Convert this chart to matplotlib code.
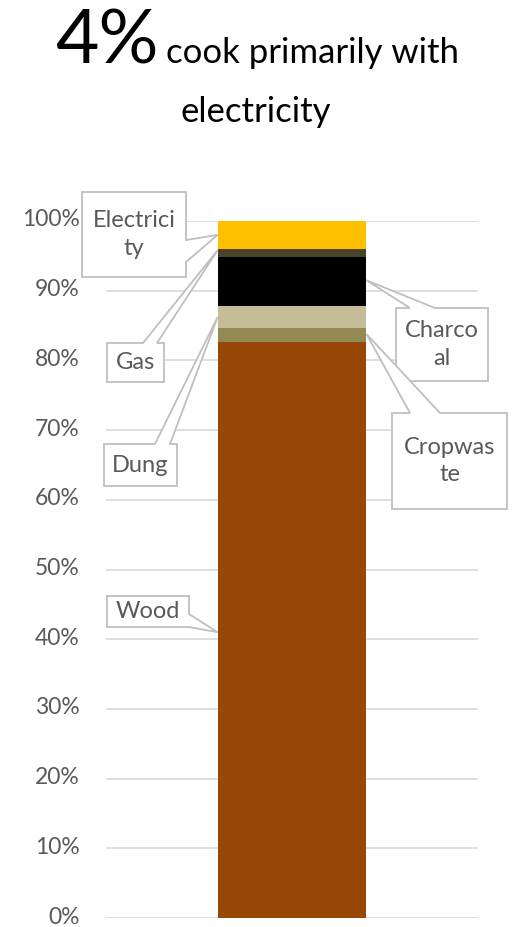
import matplotlib.pyplot as plt
import matplotlib.transforms as mtransforms
from matplotlib.patches import Polygon

plt.rcParams['font.family'] = ['Lato', 'DejaVu Sans']

# stacked shares, bottom to top
fuels = ['Wood', 'Cropwaste', 'Dung', 'Charcoal', 'Gas', 'Electricity']
shares = [0.826, 0.020, 0.032, 0.071, 0.011, 0.040]
colors = ['#974706', '#938953', '#C4BD97', '#000000', '#494429', '#FFC000']
label_text = ['Wood', 'Cropwas\nte', 'Dung', 'Charco\nal', 'Gas', 'Electrici\nty']
yticks = [0.0, 0.1, 0.2, 0.3, 0.4, 0.5, 0.6, 0.7, 0.8, 0.9, 1.0]

W, H = 518, 927
fig = plt.figure(figsize=(W / 100, H / 100), dpi=100)
ax = fig.add_axes([106 / W, 1 - 918 / H, (478 - 106) / W, (918 - 221) / H])

bottom = 0.0
for s, c in zip(shares, colors):
    ax.bar(0, s, width=1.0, bottom=bottom, color=c, zorder=3)
    bottom += s

ax.set_xlim(-1.25, 1.25)
ax.set_ylim(0, 1)
ax.set_yticks(yticks)
ax.set_yticklabels([f'{int(round(t * 100))}%' for t in yticks])
ax.tick_params(axis='y', length=0, pad=19, labelsize=16.5, labelcolor='#595959')
ax.set_xticks([])
for sp in ax.spines.values():
    sp.set_visible(False)
ax.grid(axis='y', color='#D9D9D9', linewidth=1.2, zorder=0)

# nudge tick labels up a little so the 0% label stays inside the figure
shift = mtransforms.ScaledTranslation(0, 3 / 100, fig.dpi_scale_trans)
for lab in ax.get_yticklabels():
    lab.set_transform(lab.get_transform() + shift)


def px(x, y):
    return (x / W, 1 - y / H)


def callout(text, box, side, base, tip_data):
    x0, y0, x1, y1 = box
    tip = fig.transFigure.inverted().transform(ax.transData.transform(tip_data))
    tip_px = (tip[0] * W, (1 - tip[1]) * H)
    if side == 'right':
        pts = [(x0, y0), (x1, y0), (x1, base[0]), tip_px, (x1, base[1]), (x1, y1), (x0, y1)]
    else:  # top
        pts = [(x0, y0), (base[0], y0), tip_px, (base[1], y0), (x1, y0), (x1, y1), (x0, y1)]
    poly = Polygon([px(*p) for p in pts], closed=True, transform=fig.transFigure,
                   facecolor='white', edgecolor='#BFBFBF', linewidth=1.3, zorder=5)
    fig.add_artist(poly)
    fig.text((x0 + x1) / 2 / W, 1 - (y0 + y1) / 2 / H, text, ha='center', va='center',
             fontsize=17, color='#595959', linespacing=1.4, zorder=6)


left_edge, right_edge = -0.5, 0.5
callout(label_text[5], (82, 192, 186, 277), 'right', (240, 262), (left_edge, 0.98))
callout(label_text[4], (107, 343, 164, 382), 'top', (143, 157), (left_edge, 0.958))
callout(label_text[2], (104, 444, 177, 486), 'top', (155, 170), (left_edge, 0.862))
callout(label_text[3], (396, 308, 488, 381), 'top', (410, 435), (right_edge, 0.915))
callout(label_text[1], (392, 413, 507, 509), 'top', (410, 440), (right_edge, 0.838))
callout(label_text[0], (107, 596, 189, 627), 'right', (614, 627), (left_edge, 0.41))

# title
fig.text(55 / W, 1 - 63 / H, '4%', fontsize=54, color='black', va='baseline', ha='left')
fig.text(166 / W, 1 - 63 / H, 'cook primarily with', fontsize=25, color='black',
         va='baseline', ha='left')
fig.text(256 / W, 1 - 122 / H, 'electricity', fontsize=25, color='black',
         va='baseline', ha='center')

fig.savefig('out.png', dpi=100)
